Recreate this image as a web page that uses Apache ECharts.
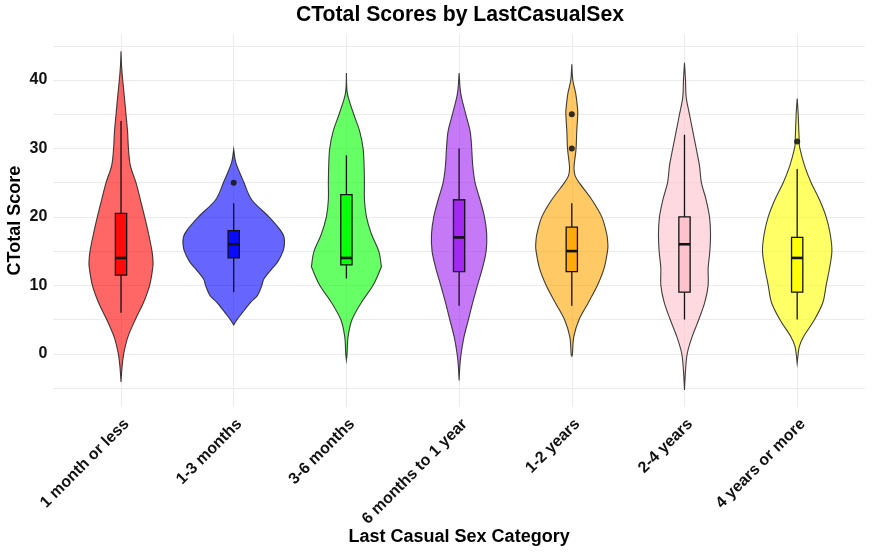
<!DOCTYPE html>
<html>
<head>
<meta charset="utf-8">
<script src="https://cdn.jsdelivr.net/npm/echarts@6/dist/echarts.min.js"></script>
<style>
html,body{margin:0;padding:0;background:#fff;}
#chart{width:872px;height:553px;}
</style>
</head>
<body>
<div id="chart"></div>
<script>
// ---- data ----
const categories = ["1 month or less","1-3 months","3-6 months","6 months to 1 year","1-2 years","2-4 years","4 years or more"];
const colors = ["#FF0000","#0000FF","#00FF00","#A020F0","#FFA500","#FFC0CB","#FFFF00"];

// violin profiles: [score, half-width in category units]
const violin1 = [[44.2,0],[42,0.005],[40,0.015],[37.5,0.03],[35,0.044],[32.5,0.058],[30,0.066],[27.5,0.083],[25,0.133],[22.5,0.172],[20,0.21],[17.5,0.245],[15,0.275],[13.5,0.284],[12.5,0.281],[10,0.254],[7.5,0.2],[5,0.127],[2.5,0.062],[0,0.024],[-2,0.009],[-4.1,0]];
const violin2 = [[29.9,0],[28,0.018],[26,0.065],[25,0.092],[22.5,0.16],[20,0.313],[18,0.417],[17,0.447],[16,0.45],[15,0.438],[13.5,0.393],[12.5,0.343],[11,0.27],[10,0.25],[8.5,0.21],[7.5,0.15],[6,0.077],[5,0.03],[4.2,0]];
const violin3 = [[41,0],[38,0.009],[35,0.065],[32.5,0.118],[30,0.148],[27.5,0.157],[25,0.16],[22.5,0.16],[20,0.178],[17.5,0.222],[15,0.287],[13,0.308],[12.5,0.305],[10,0.237],[7.5,0.133],[5,0.05],[2.5,0.015],[0,0.006],[-0.9,0]];
const violin4 = [[41,0],[38,0.015],[35,0.059],[32.5,0.098],[30,0.112],[27.5,0.121],[25,0.142],[22.5,0.186],[20,0.225],[17.5,0.245],[15,0.24],[12.5,0.207],[10,0.163],[7.5,0.121],[5,0.083],[2.5,0.044],[0,0.018],[-2,0.006],[-3.9,0]];
const violin5 = [[42.3,0],[40,0.009],[38,0.035],[36,0.05],[35,0.053],[32.5,0.044],[30,0.038],[28,0.024],[27,0.02],[26,0.03],[25,0.065],[22.5,0.178],[20,0.266],[17.5,0.31],[16,0.32],[15,0.317],[12.5,0.287],[10,0.228],[7.5,0.148],[5,0.065],[2.5,0.018],[0,0.006],[-0.3,0]];
const violin6 = [[42.5,0],[40,0.009],[37.5,0.015],[35,0.044],[32.5,0.074],[30,0.104],[27.5,0.133],[25,0.15],[22.5,0.192],[20,0.222],[17.5,0.231],[15,0.225],[12.5,0.21],[10,0.21],[7.5,0.18],[5,0.127],[2.5,0.068],[0,0.024],[-2.5,0.009],[-5.3,0]];
const violin7 = [[37.3,0],[35,0.009],[31,0.018],[30,0.024],[27.5,0.065],[25,0.124],[22.5,0.198],[20,0.257],[17.5,0.293],[15,0.308],[12.5,0.287],[10,0.257],[7.5,0.228],[5,0.154],[2.5,0.056],[1,0.018],[-1.4,0]];
const violins = [violin1,violin2,violin3,violin4,violin5,violin6,violin7];

// box statistics
const whiskerLow  = [6, 9, 11, 7, 7, 5, 5];
const boxQ1       = [11.5, 14, 13, 12, 12, 9, 9];
const boxMedian   = [14, 16, 14, 17, 15, 16, 14];
const boxQ3       = [20.5, 18, 23.25, 22.5, 18.5, 20, 17];
const whiskerHigh = [34, 22, 29, 30, 22, 32, 27];
// outliers: [category position, score]
const outliers = [[2,25],[5,35],[5,30],[7,31]];

const yTicks = [-5,0,5,10,15,20,25,30,35,40,45];
const yLabels = [0,10,20,30,40];
const xPositions = [1,2,3,4,5,6,7];

// ---- chart ----
const FONT = "Liberation Sans, Arial, Helvetica, sans-serif";
const chart = echarts.init(document.getElementById('chart'), null, {renderer:'canvas'});

// Catmull-Rom -> cubic bezier path segments through screen points (rendering only)
function smoothSegs(pts){
  let d = '';
  for (let i = 0; i < pts.length - 1; i++){
    const p0 = pts[i-1] || pts[i], p1 = pts[i], p2 = pts[i+1], p3 = pts[i+2] || pts[i+1];
    const c1x = p1[0] + (p2[0]-p0[0])/6, c1y = p1[1] + (p2[1]-p0[1])/6;
    const c2x = p2[0] - (p3[0]-p1[0])/6, c2y = p2[1] - (p3[1]-p1[1])/6;
    d += ' C' + c1x.toFixed(2) + ' ' + c1y.toFixed(2) + ' ' + c2x.toFixed(2) + ' ' + c2y.toFixed(2) + ' ' + p2[0].toFixed(2) + ' ' + p2[1].toFixed(2);
  }
  return d;
}

function violinRender(params, api){
  const i = params.dataIndex;
  const prof = violins[i];
  const cx = i + 1;
  const left = prof.map(p => api.coord([cx - p[1], p[0]]));
  const right = prof.slice().reverse().map(p => api.coord([cx + p[1], p[0]]));
  const d = 'M' + left[0][0].toFixed(2) + ' ' + left[0][1].toFixed(2) + smoothSegs(left) +
            ' L' + right[0][0].toFixed(2) + ' ' + right[0][1].toFixed(2) + smoothSegs(right) + ' Z';
  return {
    type:'path',
    shape:{pathData:d},
    style:{fill:colors[i], opacity:1, fillOpacity:0.6, stroke:'rgba(30,30,30,0.85)', lineWidth:1.1}
  };
}
function boxRender(params, api){
  const i = params.dataIndex;
  const cx = i + 1;
  const hw = 0.05;
  const pLow = api.coord([cx, whiskerLow[i]]);
  const pQ1 = api.coord([cx, boxQ1[i]]);
  const pQ3 = api.coord([cx, boxQ3[i]]);
  const pHigh = api.coord([cx, whiskerHigh[i]]);
  const pMedL = api.coord([cx - hw, boxMedian[i]]);
  const pMedR = api.coord([cx + hw, boxMedian[i]]);
  const tl = api.coord([cx - hw, boxQ3[i]]);
  const br = api.coord([cx + hw, boxQ1[i]]);
  return {
    type:'group',
    children:[
      {type:'line', shape:{x1:pLow[0],y1:pLow[1],x2:pQ1[0],y2:pQ1[1]}, style:{stroke:'#111',lineWidth:1.3}},
      {type:'line', shape:{x1:pQ3[0],y1:pQ3[1],x2:pHigh[0],y2:pHigh[1]}, style:{stroke:'#111',lineWidth:1.3}},
      {type:'rect', shape:{x:tl[0],y:tl[1],width:br[0]-tl[0],height:br[1]-tl[1]}, style:{fill:colors[i],opacity:1,fillOpacity:0.9,stroke:'#111',lineWidth:1.3}},
      {type:'line', shape:{x1:pMedL[0],y1:pMedL[1],x2:pMedR[0],y2:pMedR[1]}, style:{stroke:'#111',lineWidth:2.6}}
    ]
  };
}

const option = {
  backgroundColor:'#fff',
  animation:false,
  graphic:[
    {type:'text', x:460, y:15, style:{text:'CTotal Scores by LastCasualSex', font:'bold 21.2px '+FONT, fill:'#000', textAlign:'center', textVerticalAlign:'middle'}}
  ],
  grid:{left:53.4, right:7.2, top:34.3, bottom:146, containLabel:false, outerBoundsMode:'none'},
  xAxis:{
    type:'value', min:0.4, max:7.6,
    name:'Last Casual Sex Category', nameLocation:'middle', nameGap:121, nameMoveOverlap:false,
    nameTextStyle:{fontFamily:FONT, fontWeight:'bold', fontSize:18, color:'#000'},
    axisLine:{show:false},
    axisTick:{show:false, customValues:xPositions},
    axisLabel:{customValues:xPositions, rotate:45, margin:9, verticalAlign:'top', fontFamily:FONT, fontWeight:'bold', fontSize:16, color:'#111',
      formatter:function(v){ return categories[Math.round(v)-1] || ''; }},
    splitLine:{show:true, lineStyle:{color:'#ebebeb', width:1}}
  },
  yAxis:{
    type:'value', min:-7.775, max:46.675,
    name:'CTotal Score', nameLocation:'middle', nameGap:29, nameMoveOverlap:false,
    nameTextStyle:{fontFamily:FONT, fontWeight:'bold', fontSize:18, color:'#000'},
    axisLine:{show:false},
    axisTick:{show:false, customValues:yTicks},
    axisLabel:{customValues:yLabels, margin:6, fontFamily:FONT, fontWeight:'bold', fontSize:16, color:'#111'},
    splitLine:{show:true, lineStyle:{color:'#ebebeb', width:1}}
  },
  series:[
    {type:'custom', name:'violin', renderItem:violinRender, data:categories.map((c,i)=>[i+1]), z:2},
    {type:'custom', name:'box', renderItem:boxRender, data:categories.map((c,i)=>[i+1]), z:3},
    {type:'scatter', name:'outliers', data:outliers, symbolSize:6, itemStyle:{color:'#1a1a1a', opacity:0.9}, z:4}
  ]
};
chart.setOption(option);
</script>
</body>
</html>
